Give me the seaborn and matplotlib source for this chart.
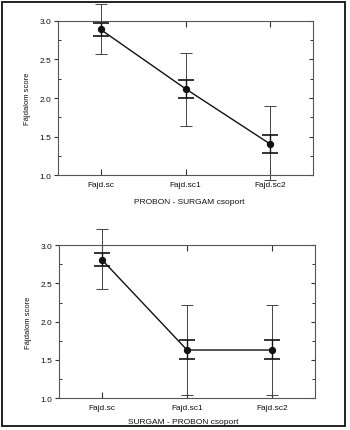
import matplotlib
matplotlib.use("Agg")
import matplotlib.pyplot as plt
import seaborn as sns
import pandas as pd
from matplotlib.patches import Rectangle

categories = ["Fajd.sc", "Fajd.sc1", "Fajd.sc2"]

top_mean = [2.89, 2.12, 1.40]
top_se_low = [2.81, 2.00, 1.28]
top_se_high = [2.97, 2.23, 1.52]
top_ci_low = [2.57, 1.64, 0.94]
top_ci_high = [3.22, 2.59, 1.90]

bot_mean = [2.81, 1.63, 1.63]
bot_se_low = [2.73, 1.51, 1.51]
bot_se_high = [2.89, 1.76, 1.76]
bot_ci_low = [2.42, 1.04, 1.04]
bot_ci_high = [3.21, 2.22, 2.22]

yticks = [1.0, 1.5, 2.0, 2.5, 3.0]
ylabel = "Fájdalom score"
xlabels = ["PROBON - SURGAM csoport", "SURGAM - PROBON csoport"]

sns.set_theme(style="white")
plt.rcParams['font.family'] = ['Liberation Sans', 'DejaVu Sans']

fig = plt.figure(figsize=(3.5, 4.31), dpi=100)
fig.patches.append(Rectangle((0.007, 0.0093), 0.979, 0.9827, transform=fig.transFigure,
                             fill=False, edgecolor="#111111", linewidth=1.3))

ax1 = fig.add_axes([0.166, 0.5916, 0.728, 0.3574])
ax2 = fig.add_axes([0.169, 0.0735, 0.731, 0.3557])

panels = [
    (ax1, top_mean, top_se_low, top_se_high, top_ci_low, top_ci_high, xlabels[0], 0.513, -0.17),
    (ax2, bot_mean, bot_se_low, bot_se_high, bot_ci_low, bot_ci_high, xlabels[1], 0.485, -0.15),
]

for ax, mean, sel, seh, cil, cih, xl, xlpos, ylpos in panels:
    df = pd.DataFrame({"cat": categories, "val": mean})
    sns.pointplot(data=df, x="cat", y="val", ax=ax, color="#111111",
                  markersize=4.5, linewidth=1.0, errorbar=None)
    xs = list(range(len(categories)))
    ax.errorbar(xs, mean,
                yerr=[[m - l for m, l in zip(mean, cil)], [h - m for m, h in zip(mean, cih)]],
                fmt="none", ecolor="#444444", elinewidth=0.7, capsize=4.5, capthick=0.7,
                clip_on=False, zorder=2)
    ax.errorbar(xs, mean,
                yerr=[[m - l for m, l in zip(mean, sel)], [h - m for m, h in zip(mean, seh)]],
                fmt="none", ecolor="#111111", elinewidth=1.0, capsize=5.5, capthick=1.2,
                clip_on=False, zorder=3)
    ax.set_xlim(-0.5, 2.5)
    ax.set_ylim(1.0, 3.0)
    ax.set_yticks(yticks)
    ax.set_yticklabels([f"{t:.1f}" for t in yticks])
    ax.set_ylabel(ylabel, fontsize=5.5, labelpad=6, color="#111111")
    ax.set_xlabel("")
    ax.text(xlpos, ylpos, xl, transform=ax.transAxes,
            ha="center", va="center", fontsize=6, color="#111111")
    for s in ax.spines.values():
        s.set_visible(True)
        s.set_color("#555555")
        s.set_linewidth(0.8)
    ax.tick_params(axis="y", which="both", left=True, right=True, direction="out",
                   length=3, width=0.8, colors="#333333", labelcolor="#111111",
                   labelsize=6, pad=2)
    ax.tick_params(axis="x", bottom=True, top=True, direction="in",
                   length=4, width=0.8, colors="#333333", labelcolor="#111111",
                   labelsize=6, pad=4)
    ax.set_yticks([1.25, 1.75, 2.25, 2.75], minor=True)
    ax.tick_params(axis="y", which="minor", direction="in", length=2, width=0.7,
                   left=True, right=True)
    for t in ax.yaxis.get_major_ticks():
        t.tick2line.set_marker(matplotlib.markers.TICKLEFT)

fig.savefig("out.png", dpi=100)
